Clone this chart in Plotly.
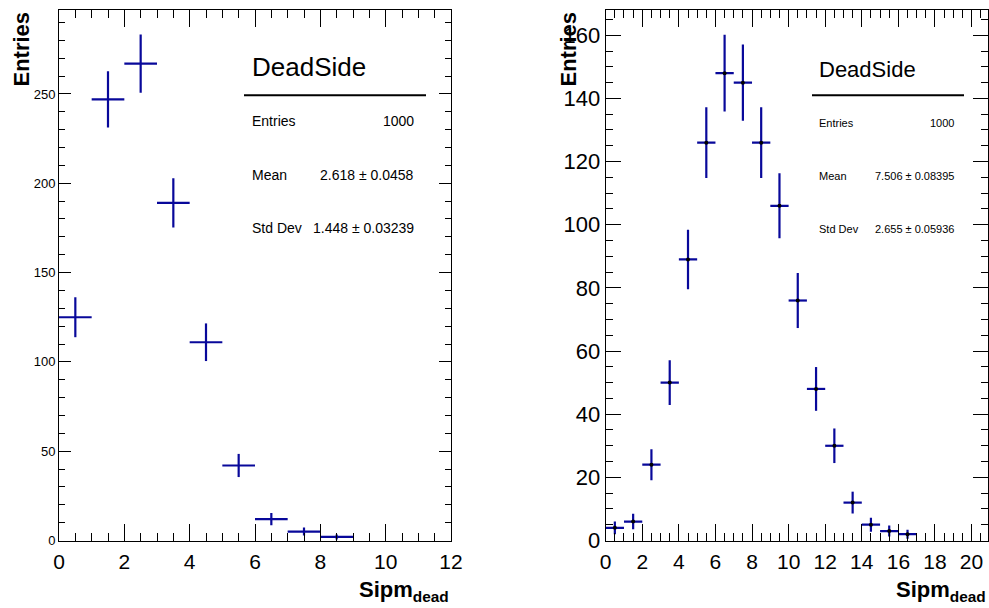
import numpy as np
import plotly.graph_objects as go

# Left histogram (Sipm_dead, bins of width 1)
left_centers = [0.5, 1.5, 2.5, 3.5, 4.5, 5.5, 6.5, 7.5, 8.5]
left_counts = [125, 247, 267, 189, 111, 42, 12, 5, 2]

# Right histogram
right_centers = [0.5, 1.5, 2.5, 3.5, 4.5, 5.5, 6.5, 7.5, 8.5, 9.5, 10.5, 11.5, 12.5, 13.5, 14.5, 15.5, 16.5]
right_counts = [4, 6, 24, 50, 89, 126, 148, 145, 126, 106, 76, 48, 30, 12, 5, 3, 2]

bin_half_width = 0.5

left_stats = {"title": "DeadSide", "Entries": "1000", "Mean": "2.618 ± 0.0458", "Std Dev": "1.448 ± 0.03239"}
right_stats = {"title": "DeadSide", "Entries": "1000", "Mean": "7.506 ± 0.08395", "Std Dev": "2.655 ± 0.05936"}

left_xticks = [0, 2, 4, 6, 8, 10, 12]
left_yticks = [0, 50, 100, 150, 200, 250]
right_xticks = [0, 2, 4, 6, 8, 10, 12, 14, 16, 18, 20]
right_yticks = [0, 20, 40, 60, 80, 100, 120, 140, 160]

BLUE = "#08089a"
FONT = "Liberation Sans, Arial, sans-serif"
W, H = 989, 608

fig = go.Figure()

fig.add_trace(go.Scatter(
    x=left_centers, y=left_counts, mode="markers",
    marker=dict(size=1, color=BLUE),
    error_x=dict(type="constant", value=bin_half_width, width=0, thickness=2.2, color=BLUE),
    error_y=dict(type="data", array=list(np.sqrt(left_counts)), width=0, thickness=2.2, color=BLUE),
    xaxis="x", yaxis="y", showlegend=False, hoverinfo="skip"))

fig.add_trace(go.Scatter(
    x=right_centers, y=right_counts, mode="markers",
    marker=dict(size=4, color="black"),
    error_x=dict(type="constant", value=bin_half_width, width=0, thickness=2.2, color=BLUE),
    error_y=dict(type="data", array=list(np.sqrt(right_counts)), width=0, thickness=2.2, color=BLUE),
    xaxis="x2", yaxis="y2", showlegend=False, hoverinfo="skip"))

ydom = [1 - 540.5 / H, 1 - 10 / H]
common = dict(showgrid=False, zeroline=False, showline=True, linecolor="black", linewidth=1,
              mirror="allticks", ticks="inside", tickcolor="black", automargin=False)

fig.update_layout(
    width=W, height=H,
    margin=dict(l=0, r=0, t=0, b=0, autoexpand=False),
    paper_bgcolor="white", plot_bgcolor="white",
    font=dict(family=FONT, color="black"),
    xaxis=dict(domain=[59 / W, 451 / W], range=[0, 12], tickvals=left_xticks,
               ticklen=17, tickwidth=1, tickfont=dict(size=21), ticklabelstandoff=2,
               minor=dict(dtick=0.5, tick0=0, ticklen=8, ticks="inside", tickcolor="black"),
               anchor="y", **common),
    yaxis=dict(domain=ydom, range=[0, 297], tickvals=left_yticks,
               ticklen=12, tickwidth=1, tickfont=dict(size=13), ticklabelstandoff=0,
               minor=dict(dtick=10, tick0=0, ticklen=6, ticks="inside", tickcolor="black"),
               anchor="x", **common),
    xaxis2=dict(domain=[605.7 / W, 988 / W], range=[0, 20.9], tickvals=right_xticks,
                ticklen=17, tickwidth=1, tickfont=dict(size=21), ticklabelstandoff=2,
                minor=dict(dtick=0.5, tick0=0, ticklen=8, ticks="inside", tickcolor="black"),
                anchor="y2", **common),
    yaxis2=dict(domain=ydom, range=[0, 168], tickvals=right_yticks,
                ticklen=15, tickwidth=1, tickfont=dict(size=22), ticklabelstandoff=0,
                minor=dict(dtick=5, tick0=0, ticklen=7, ticks="inside", tickcolor="black"),
                anchor="x2", **common),
)

def px(x):
    return x / W

def py(y):
    return 1 - y / H

ann = []
# axis titles
for xc in (21, 568):
    ann.append(dict(x=px(xc), y=py(10), xref="paper", yref="paper", text="<b>Entries</b>",
                    textangle=-90, xanchor="center", yanchor="top", showarrow=False,
                    font=dict(size=22, family=FONT)))
for xr in (451, 988):
    ann.append(dict(x=px(xr), y=py(607), xref="paper", yref="paper",
                    text="<b>Sipm<sub>dead</sub></b>", xanchor="right", yanchor="bottom",
                    showarrow=False, font=dict(size=22, family=FONT)))

def stats(st, x_l, x_r, y_title, rows_y, tsize, fsize):
    out = [dict(x=px(x_l), y=py(y_title), xref="paper", yref="paper", text=st["title"],
                xanchor="left", yanchor="middle", showarrow=False, font=dict(size=tsize, family=FONT))]
    for key, yy in zip(["Entries", "Mean", "Std Dev"], rows_y):
        out.append(dict(x=px(x_l), y=py(yy), xref="paper", yref="paper", text=key,
                        xanchor="left", yanchor="middle", showarrow=False, font=dict(size=fsize, family=FONT)))
        out.append(dict(x=px(x_r), y=py(yy), xref="paper", yref="paper", text=st[key],
                        xanchor="right", yanchor="middle", showarrow=False, font=dict(size=fsize, family=FONT)))
    return out

ann += stats(left_stats, 250, 416, 67, [121, 175, 228], 26, 14)
ann += stats(right_stats, 817, 956, 69, [123, 176, 229], 22, 11)

fig.update_layout(annotations=ann)
fig.add_shape(type="line", xref="paper", yref="paper", x0=px(244), x1=px(426), y0=py(95.3), y1=py(95.3),
              line=dict(color="black", width=2))
fig.add_shape(type="line", xref="paper", yref="paper", x0=px(812), x1=px(964), y0=py(95.3), y1=py(95.3),
              line=dict(color="black", width=2))

fig.write_html("out.html", config={"displayModeBar": False},
               post_script="document.body.style.margin='0';document.body.style.overflow='hidden';")
